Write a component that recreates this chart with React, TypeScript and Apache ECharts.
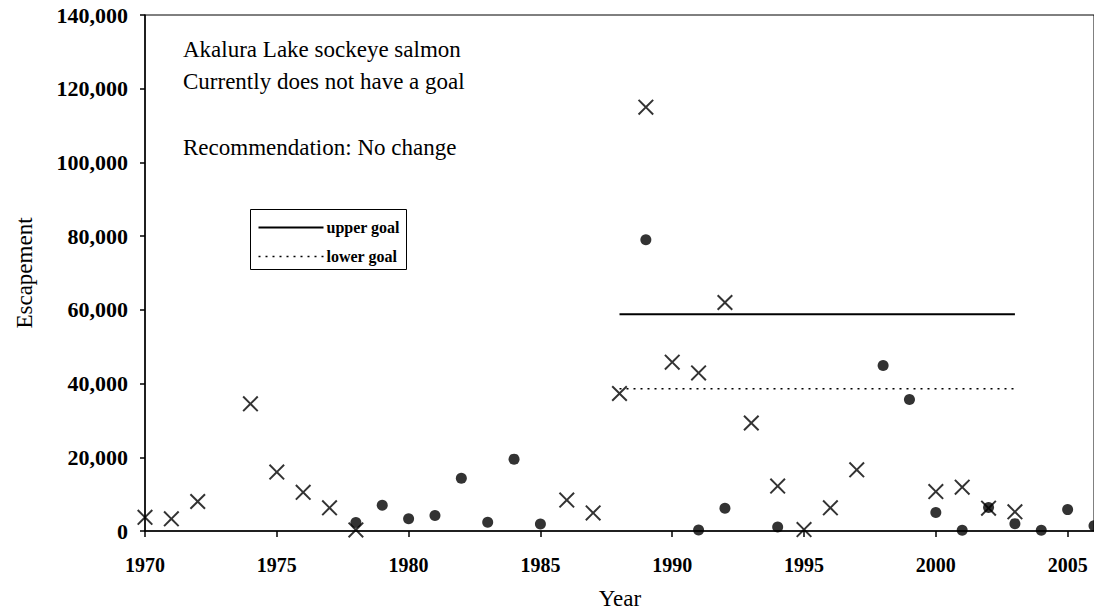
import React, { useEffect, useRef } from "react";
import * as echarts from "echarts";

// Series shown with "×" markers
const crossYears = [1970, 1971, 1972, 1974, 1975, 1976, 1977, 1978, 1986, 1987, 1988, 1989, 1990, 1991, 1992, 1993, 1994, 1995, 1996, 1997, 2000, 2001, 2002, 2003];
const crossValues = [3700, 3300, 8000, 34500, 16000, 10500, 6300, 300, 8400, 4900, 37300, 115000, 45800, 42900, 62000, 29300, 12200, 400, 6300, 16600, 10700, 11900, 6200, 5200];

// Series shown with filled dots
const dotYears = [1978, 1979, 1980, 1981, 1982, 1983, 1984, 1985, 1989, 1991, 1992, 1994, 1998, 1999, 2000, 2001, 2002, 2003, 2004, 2005, 2006];
const dotValues = [2300, 7000, 3300, 4200, 14300, 2400, 19500, 1900, 79000, 300, 6200, 1100, 44900, 35700, 5000, 200, 6400, 2000, 200, 5800, 1400];

// Goal lines
const goalYears = [1988, 2003];
const upperGoal = [58800, 58800];
const lowerGoal = [38600, 38600];
const legendLabels = ["upper goal", "lower goal"];

// Axes
const xMin = 1970;
const xMax = 2006;
const xStep = 5;
const yMin = 0;
const yMax = 140000;
const yStep = 20000;

const noteLines = ["Akalura Lake sockeye salmon", "Currently does not have a goal", "", "Recommendation: No change"];

const FONT = "'Liberation Serif', 'Times New Roman', serif";
const CROSS = "path://M0,1.4L1.4,0L8,6.6L14.6,0L16,1.4L9.4,8L16,14.6L14.6,16L8,9.4L1.4,16L0,14.6L6.6,8Z";

export default function App() {
  const ref = useRef<HTMLDivElement>(null);
  useEffect(() => {
    if (!ref.current) return;
    const chart = echarts.init(ref.current, null, { renderer: "svg" });
    const noteY = [51, 83, 116, 149];
    chart.setOption({
      animation: false,
      backgroundColor: "#fff",
      grid: { left: 145, top: 15, width: 950, height: 516, show: true, borderColor: "#000", borderWidth: 1, backgroundColor: "transparent" },
      xAxis: {
        type: "value",
        min: xMin,
        max: xMax,
        interval: xStep,
        splitLine: { show: false },
        axisLine: { lineStyle: { color: "#000", width: 1.5 } },
        axisTick: { show: true, inside: false, length: 6, lineStyle: { color: "#000", width: 1.5 } },
        axisLabel: { formatter: (v: number) => String(v), showMaxLabel: false, color: "#000", fontFamily: FONT, fontSize: 20, fontWeight: "bold", margin: 24 },
      },
      yAxis: {
        type: "value",
        min: yMin,
        max: yMax,
        interval: yStep,
        splitLine: { show: false },
        axisLine: { show: true, lineStyle: { color: "#000", width: 1.5 } },
        axisTick: { show: true, inside: false, length: 5, lineStyle: { color: "#000", width: 1.5 } },
        axisLabel: { formatter: (v: number) => v.toLocaleString("en-US"), color: "#000", fontFamily: FONT, fontSize: 22, fontWeight: "bold", margin: 17 },
      },
      series: [
        {
          name: legendLabels[0],
          type: "line",
          data: goalYears.map((x, i) => [x, upperGoal[i]]),
          symbol: "none",
          lineStyle: { color: "#000", width: 2, type: "solid" },
        },
        {
          name: legendLabels[1],
          type: "line",
          data: goalYears.map((x, i) => [x, lowerGoal[i]]),
          symbol: "none",
          lineStyle: { color: "#000", width: 1.5, type: [2, 5] },
        },
        {
          name: "escapement ×",
          type: "scatter",
          data: crossYears.map((x, i) => [x, crossValues[i]]),
          symbol: CROSS,
          symbolSize: 16,
          itemStyle: { color: "#000" },
          z: 3,
        },
        {
          name: "escapement •",
          type: "scatter",
          data: dotYears.map((x, i) => [x, dotValues[i]]),
          symbol: "circle",
          symbolSize: 11,
          itemStyle: { color: "#000" },
          z: 4,
        },
      ],
      graphic: [
        ...noteLines.map((t, i) => ({
          type: "text",
          left: 183,
          top: noteY[i] - 13,
          style: { text: t, fill: "#000", font: `23px ${FONT}` },
        })),
        {
          type: "group",
          left: 250,
          top: 209,
          children: [
            { type: "rect", shape: { x: 0, y: 0, width: 156, height: 60 }, style: { fill: "#fff", stroke: "#000", lineWidth: 1 } },
            { type: "line", shape: { x1: 8, y1: 18, x2: 73, y2: 18 }, style: { stroke: "#000", lineWidth: 2 } },
            { type: "line", shape: { x1: 8, y1: 47, x2: 73, y2: 47 }, style: { stroke: "#000", lineWidth: 1.5, lineDash: [2, 5] } },
            { type: "text", x: 76, y: 18, style: { text: legendLabels[0], fill: "#000", font: `bold 16px ${FONT}`, verticalAlign: "middle" } },
            { type: "text", x: 76, y: 47, style: { text: legendLabels[1], fill: "#000", font: `bold 16px ${FONT}`, verticalAlign: "middle" } },
          ],
        },
        {
          type: "text",
          x: 24,
          y: 273,
          rotation: Math.PI / 2,
          style: { text: "Escapement", fill: "#000", font: `23px ${FONT}`, align: "center", verticalAlign: "middle" },
        },
        {
          type: "text",
          x: 620,
          y: 598,
          style: { text: "Year", fill: "#000", font: `23px ${FONT}`, align: "center", verticalAlign: "middle" },
        },
      ],
    });
    return () => chart.dispose();
  }, []);
  return <div ref={ref} style={{ position: "absolute", left: 0, top: 0, width: 1094, height: 613 }} />;
}
